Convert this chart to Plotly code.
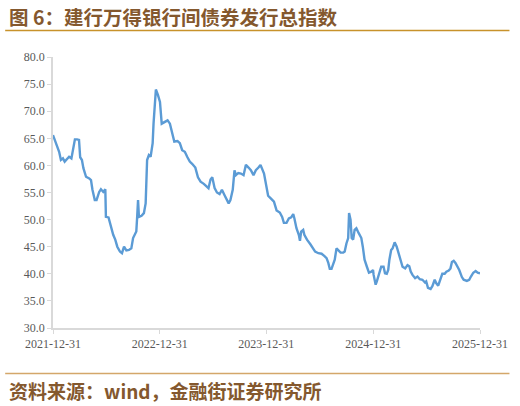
import plotly.graph_objects as go

dates = [
    "2021-12-31", "2022-01-06", "2022-01-14", "2022-01-21", "2022-01-27", "2022-02-03", "2022-02-09",
    "2022-02-17", "2022-02-24", "2022-03-04", "2022-03-09", "2022-03-16", "2022-03-23", "2022-03-30",
    "2022-04-03", "2022-04-09", "2022-04-14", "2022-04-23", "2022-05-04", "2022-05-10", "2022-05-15",
    "2022-05-23", "2022-05-29", "2022-06-07", "2022-06-13", "2022-06-21", "2022-06-28", "2022-06-30",
    "2022-07-09", "2022-07-17", "2022-07-25", "2022-08-01", "2022-08-08", "2022-08-17", "2022-08-24",
    "2022-08-31", "2022-09-08", "2022-09-17", "2022-09-25", "2022-10-01", "2022-10-07", "2022-10-12",
    "2022-10-15", "2022-10-18", "2022-10-21", "2022-10-30", "2022-11-07", "2022-11-13", "2022-11-18",
    "2022-11-24", "2022-11-30", "2022-12-07", "2022-12-10", "2022-12-14", "2022-12-18", "2022-12-25",
    "2023-01-01", "2023-01-07", "2023-01-16", "2023-01-27", "2023-02-04", "2023-02-12", "2023-02-19",
    "2023-03-02", "2023-03-10", "2023-03-18", "2023-03-27", "2023-04-05", "2023-04-13", "2023-04-21",
    "2023-05-02", "2023-05-11", "2023-05-20", "2023-05-31", "2023-06-08", "2023-06-16", "2023-06-23",
    "2023-06-29", "2023-07-07", "2023-07-15", "2023-07-24", "2023-08-01", "2023-08-10", "2023-08-19",
    "2023-08-24", "2023-08-30", "2023-09-07", "2023-09-13", "2023-09-18", "2023-09-26", "2023-10-05",
    "2023-10-14", "2023-10-22", "2023-10-31", "2023-11-08", "2023-11-17", "2023-11-25", "2023-12-04",
    "2023-12-11", "2023-12-23", "2023-12-29", "2024-01-03", "2024-01-06", "2024-01-15", "2024-01-26",
    "2024-02-04", "2024-02-15", "2024-02-23", "2024-02-29", "2024-03-09", "2024-03-17", "2024-03-25",
    "2024-04-01", "2024-04-05", "2024-04-12", "2024-04-20", "2024-04-24", "2024-04-28", "2024-05-05",
    "2024-05-09", "2024-05-18", "2024-05-29", "2024-06-07", "2024-06-15", "2024-06-26", "2024-07-07",
    "2024-07-16", "2024-07-24", "2024-07-30", "2024-08-04", "2024-08-10", "2024-08-16", "2024-08-21",
    "2024-08-27", "2024-09-02", "2024-09-10", "2024-09-19", "2024-09-24", "2024-09-30", "2024-10-06",
    "2024-10-09", "2024-10-14", "2024-10-18", "2024-10-23", "2024-10-28", "2024-11-03", "2024-11-11",
    "2024-11-20", "2024-11-25", "2024-12-01", "2024-12-09", "2024-12-16", "2024-12-24", "2024-12-30",
    "2025-01-01", "2025-01-08", "2025-01-12", "2025-01-19", "2025-01-27", "2025-02-04", "2025-02-09",
    "2025-02-15", "2025-02-20", "2025-02-24", "2025-03-02", "2025-03-07", "2025-03-14", "2025-03-21",
    "2025-03-28", "2025-04-04", "2025-04-10", "2025-04-19", "2025-04-27", "2025-05-03", "2025-05-08",
    "2025-05-14", "2025-05-23", "2025-05-31", "2025-06-08", "2025-06-17", "2025-06-26", "2025-06-30",
    "2025-07-06", "2025-07-15", "2025-07-21", "2025-07-29", "2025-08-03", "2025-08-10", "2025-08-18",
    "2025-08-24", "2025-09-01", "2025-09-07", "2025-09-15", "2025-09-21", "2025-09-26", "2025-10-02",
    "2025-10-08", "2025-10-13", "2025-10-21", "2025-10-30", "2025-11-05", "2025-11-16", "2025-11-24",
    "2025-11-30", "2025-12-08", "2025-12-16", "2025-12-23", "2025-12-31",
]

index_values = [
    65.6, 64.7, 63.4, 62.5, 61.0, 61.3, 60.7,
    61.1, 61.6, 61.3, 62.5, 64.8, 64.8, 64.7,
    61.5, 61.0, 59.5, 57.9, 57.6, 57.3, 55.5,
    53.6, 53.6, 55.1, 55.6, 55.1, 55.6, 50.5,
    50.4, 48.7, 47.2, 46.3, 45.0, 44.1, 43.8,
    45.0, 44.3, 44.4, 44.7, 46.6, 47.2, 47.8,
    50.5, 53.6, 50.5, 50.7, 51.2, 53.0, 61.0,
    61.9, 61.6, 64.1, 67.7, 71.0, 74.0, 73.0,
    71.7, 67.7, 68.0, 68.3, 67.7, 65.9, 64.4,
    64.5, 64.1, 62.8, 62.5, 61.5, 60.7, 60.3,
    59.6, 57.8, 57.0, 56.6, 56.2, 55.8, 57.4,
    57.8, 55.8, 55.0, 54.7, 55.5, 54.5, 53.5,
    53.0, 53.6, 55.5, 59.1, 58.2, 58.6, 58.5,
    58.2, 60.1, 59.6, 59.1, 58.2, 59.1, 59.6,
    60.1, 58.5, 57.0, 55.1, 54.4, 53.9, 53.3,
    51.7, 51.3, 50.5, 49.4, 49.4, 50.2, 50.4,
    51.0, 50.2, 48.4, 47.2, 46.1, 47.8, 48.1,
    47.2, 46.3, 45.5, 44.7, 44.1, 43.8, 43.7,
    43.3, 42.9, 42.0, 40.9, 40.9, 42.0, 42.6,
    44.7, 44.4, 43.9, 43.9, 44.1, 45.6, 46.6,
    51.2, 50.0, 46.6, 46.3, 48.1, 48.4, 47.5,
    46.6, 45.0, 42.6, 41.3, 40.2, 40.4, 40.7,
    39.8, 38.0, 38.6, 40.1, 41.3, 41.3, 40.1,
    40.0, 40.7, 42.6, 44.4, 44.7, 45.8, 45.0,
    43.8, 42.6, 41.3, 41.0, 41.6, 41.4, 40.4,
    39.8, 39.2, 39.5, 39.0, 38.9, 38.4, 38.6,
    37.4, 37.2, 37.7, 38.9, 38.3, 37.8, 39.2,
    40.0, 40.0, 40.4, 40.6, 41.0, 42.2, 42.4,
    42.0, 41.5, 40.7, 39.4, 38.9, 38.7, 38.9,
    39.5, 40.2, 40.5, 40.2, 40.1,
]

x_ticks = ["2021-12-31", "2022-12-31", "2023-12-31", "2024-12-31", "2025-12-31"]
y_ticks = [30, 35, 40, 45, 50, 55, 60, 65, 70, 75, 80]

title_text = "图 6：建行万得银行间债券发行总指数"
source_text = "资料来源：wind，金融街证券研究所"

fig = go.Figure()
fig.add_trace(go.Scatter(
    x=dates, y=index_values, mode="lines",
    line=dict(color="#5B9BD5", width=2.4),
    showlegend=False, hoverinfo="skip",
))

tick_font = dict(family="Liberation Serif", size=12, color="#595959")

fig.update_layout(
    width=520, height=406,
    margin=dict(l=53, r=35, t=57, b=78, pad=0),
    paper_bgcolor="white", plot_bgcolor="white",
    xaxis=dict(
        type="date", range=["2021-12-31", "2025-12-31"],
        tickmode="array", tickvals=x_ticks, ticktext=x_ticks,
        showgrid=False, zeroline=False,
        showline=True, linecolor="#D9D9D9", linewidth=1.5,
        ticks="outside", ticklen=4, tickcolor="#D9D9D9", tickwidth=1,
        tickfont=tick_font, tickangle=0,
    ),
    yaxis=dict(
        range=[30, 80], tickmode="array", tickvals=y_ticks,
        tickformat=".1f", showgrid=False, zeroline=False,
        showline=True, linecolor="#D9D9D9", linewidth=1.5,
        ticks="outside", ticklen=4, tickcolor="#D9D9D9", tickwidth=1,
        tickfont=tick_font,
    ),
    shapes=[
        dict(type="line", xref="paper", yref="paper", x0=-0.112, x1=1.069, y0=1.098, y1=1.098,
             line=dict(color="#C8922B", width=1.5)),
        dict(type="line", xref="paper", yref="paper", x0=-0.112, x1=1.069, y0=-0.168, y1=-0.168,
             line=dict(color="#D4A76A", width=1.5)),
    ],
    annotations=[
        dict(text="<b>" + title_text + "</b>", xref="paper", yref="paper", x=-0.1073, y=1.150,
             xanchor="left", yanchor="middle", showarrow=False,
             font=dict(family="Noto Sans CJK SC", size=19.5, color="#84582E")),
        dict(text="<b>" + source_text + "</b>", xref="paper", yref="paper", x=-0.1073, y=-0.2308,
             xanchor="left", yanchor="middle", showarrow=False,
             font=dict(family="Noto Sans CJK SC", size=19, color="#84582E")),
    ],
)

fig.write_html("out.html", config={"displayModeBar": False},
               post_script="document.body.style.margin='0';")
